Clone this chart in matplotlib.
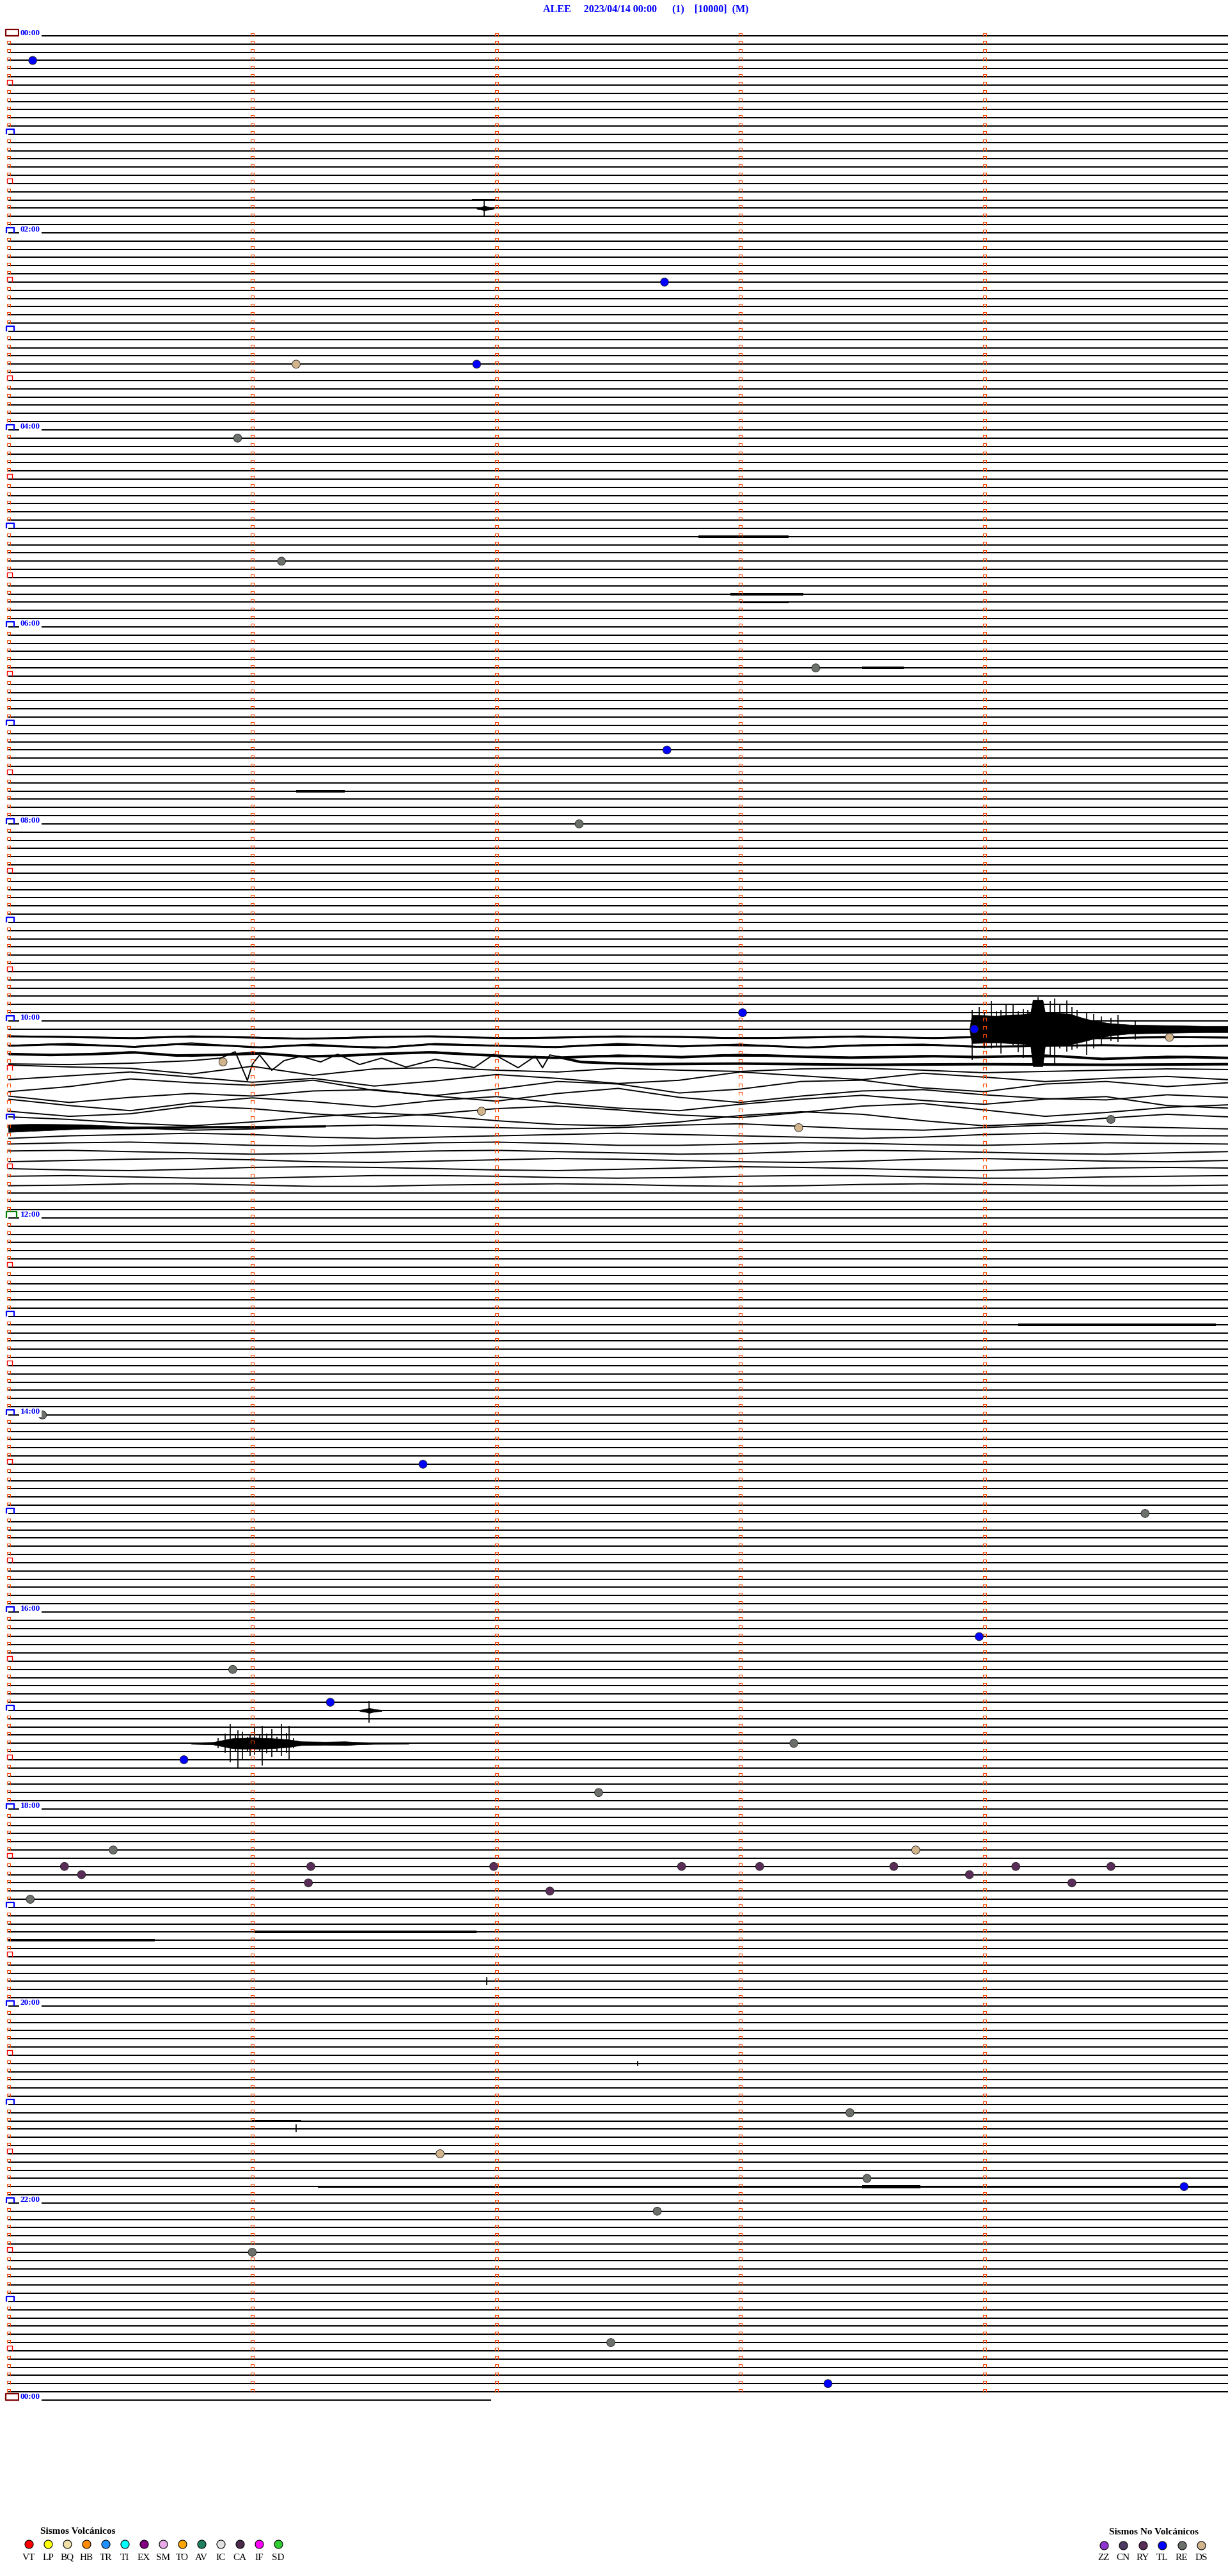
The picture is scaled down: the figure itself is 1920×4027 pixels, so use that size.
import numpy as np
import matplotlib.pyplot as plt
from matplotlib.path import Path
from matplotlib.collections import LineCollection

header = "ALEE     2023/04/14 00:00      (1)    [10000]  (M)"

n_rows = 289              # one row = 5 minutes, 00:00 .. 24:00
row_len = 5.0             # minutes per row
last_row_len = 1.98       # the 24:00 row stops after ~2 minutes
minute_ticks = [0, 1, 2, 3, 4]

# located events: row, minute inside the row, class
ev_row = [3, 30, 40, 40, 49, 64, 77, 87, 96, 119, 121, 122, 125, 131, 133, 132,
          168, 174, 180, 195, 199, 203, 208, 210, 214, 221, 221,
          223, 223, 223, 223, 223, 223, 223, 223, 224, 224, 225, 225, 226, 227,
          253, 258, 261, 262, 265, 270, 281, 286]
ev_min = [0.10, 2.69, 1.18, 1.92, 0.94, 1.12, 3.31, 2.70, 2.34, 3.01, 3.96, 4.76, 0.88, 1.94, 3.24, 4.52,
          0.14, 1.70, 4.66, 3.98, 0.92, 1.32, 3.22, 0.72, 2.42, 0.43, 3.72,
          0.23, 1.24, 1.99, 2.76, 3.08, 3.63, 4.13, 4.52, 0.30, 3.94, 1.23, 4.36, 2.22, 0.09,
          3.45, 1.77, 3.52, 4.82, 2.66, 1.00, 2.47, 3.36]
ev_cls = ["TL", "TL", "DS", "TL", "RE", "RE", "RE", "TL", "RE", "TL", "TL", "DS", "DS", "DS", "DS", "RE",
          "RE", "TL", "RE", "TL", "RE", "TL", "RE", "TL", "RE", "RE", "DS",
          "RY", "RY", "RY", "RY", "RY", "RY", "RY", "RY", "RY", "RY", "RY", "RY", "RY", "RE",
          "RE", "DS", "RE", "TL", "RE", "RE", "RE", "TL"]

# legend classes
volc_names = ["VT", "LP", "BQ", "HB", "TR", "TI", "EX", "SM", "TO", "AV", "IC", "CA", "IF", "SD"]
volc_colors = ["#ff0000", "#ffff00", "#f0e0a8", "#ff8c00", "#1e90ff", "#00ffff", "#800080",
               "#e8a8e8", "#ffa500", "#1e8060", "#e0e0e0", "#4a2a48", "#ff00ff", "#32cd32"]
novolc_names = ["ZZ", "CN", "RY", "TL", "RE", "DS"]
novolc_colors = ["#8e35d0", "#4c3a60", "#5a2c58", "#0000ff", "#6c706a", "#d2b48c"]

# long period waves around 10:00-12:00, offsets (px, up positive) every 0.25 min
wave_t = [0, 0.25, 0.5, 0.75, 1.0, 1.25, 1.5, 1.75, 2.0, 2.25, 2.5, 2.75, 3.0, 3.25, 3.5,
          3.75, 4.0, 4.25, 4.5, 4.75, 5.0]
wave_rows = [122, 123, 124, 126, 127, 128, 129, 130, 131, 132, 133, 134, 135,
             136, 137, 138, 139, 140]
wave_off = [
    [2, 1, -1, 2, 0, -2, 1, 2, -1, 0, 2, 1, -1, 0, 2, -1, 1, 0, -1, 1, 0],
    [0, 3, -2, 4, -3, 2, -4, 3, 0, -2, 3, -1, 2, -3, 1, 2, -2, 0, 1, -1, 0],
    [0, -2, 3, -4, 2, -5, 0, 3, -3, -6, -2, -5, -1, -4, -6, -3, -5, -2, -8, -4, -6],
    [8, 5, 3, -6, 6, -8, 2, 4, 0, -3, 3, 0, -2, 2, 3, 0, -4, -2, 0, 2, 1],
    [-2, 4, 10, 2, -6, 0, -12, -4, 6, 0, -8, -3, 10, 4, -2, 8, 2, -5, 0, 3, -2],
    [-8, 0, 12, 6, 2, 10, -6, -14, -4, 8, 4, -10, -4, 8, 10, -2, -8, 4, 8, 0, 6],
    [-2, -12, -4, 2, -2, 6, 8, -2, -10, 2, 10, -4, -12, -2, 6, 8, 0, -6, -8, 0, -4],
    [6, -4, -12, 0, 8, 2, -6, 4, 10, 0, -8, -12, -2, 6, 12, 4, -2, 6, 10, -4, -8],
    [0, -8, -4, 8, 4, -4, -10, -4, 4, 8, 2, -6, -10, -2, 8, 12, 2, -8, -2, 6, 10],
    [4, 0, -6, -10, -4, 4, 10, 6, -2, -8, -10, -4, 6, 12, 8, -2, -10, -6, 2, 8, 4],
    [0, 2, 0, -4, -2, 2, 4, 2, 0, -2, 0, 4, 6, 2, -2, -4, 0, 4, 2, 0, -2],
    [-4, 0, 2, 4, 2, -2, -4, -2, 0, 2, 4, 2, 0, -2, -4, -2, 2, 4, 2, 0, 0],
    [0, 2, 3, 1, -2, -3, -1, 2, 3, 1, -2, -2, 0, 2, 1, -1, -2, 0, 2, 1, 0],
    [2, 3, 1, -1, -3, -2, 0, 2, 3, 1, -1, -3, -2, 1, 3, 2, 0, -2, -3, -1, 1],
    [-2, 0, 2, 3, 1, -2, -3, -1, 1, 3, 2, 0, -2, -3, -1, 2, 3, 1, -1, -2, 0],
    [0, -2, -3, -1, 2, 3, 2, 0, -2, -3, -1, 1, 3, 2, 0, -2, -3, -1, 1, 2, 1],
    [1, 2, 0, -2, -2, 0, 2, 2, 1, -1, -2, -1, 1, 2, 2, 0, -2, -2, 0, 1, 2],
    [-1, 0, 2, 2, 0, -2, -2, 0, 1, 2, 1, -1, -2, -1, 1, 2, 1, 0, -1, -1, 0],
]
# row 125 swings fast, own time points
r125_t = [0, 0.25, 0.5, 0.75, 0.87, 0.93, 0.98, 1.0, 1.03, 1.08, 1.13, 1.2, 1.28, 1.35, 1.44,
          1.53, 1.63, 1.75, 1.85, 1.91, 1.99, 2.09, 2.16, 2.19, 2.22, 2.35, 2.6, 3.0, 3.5,
          4.0, 4.5, 5.0]
r125_off = [-3, -4, -2, 2, 6, 16, -29, -4, 11, -13, 2, 9, 0, 12, -4,
            6, -8, 4, -3, -9, 12, -9, 9, -9, 11, 0, -3, -2, -4, -3, -4, -3]

# envelopes of the larger events (px above / below the trace)
burst_row = [121, 208, 204, 21, 133]
burst_t = [[3.94, 3.95, 4.05, 4.15, 4.19, 4.20, 4.24, 4.25, 4.35, 4.40, 4.45, 4.52, 4.60, 4.75, 4.90, 5.0],
           [0.75, 0.84, 0.88, 0.92, 1.00, 1.08, 1.15, 1.20, 1.30, 1.38, 1.43, 1.50, 1.64],
           [1.44, 1.46, 1.48, 1.50, 1.53],
           [1.92, 1.94, 1.95, 1.97, 1.99],
           [0.0, 0.1, 0.3, 0.5, 1.3]]
burst_up = [[0, 22, 21, 23, 25, 46, 46, 26, 24, 18, 13, 9, 7, 6, 5, 5],
            [1, 2, 5, 8, 9, 8, 6, 3, 2.5, 3, 2, 1.2, 1],
            [1, 2, 4, 2, 1],
            [1, 2, 4, 2, 1],
            [5, 5, 3.5, 1.8, 1.2]]
burst_dn = [[0, 22, 21, 23, 25, 58, 58, 26, 24, 20, 15, 10, 7, 6, 5, 5],
            [1, 2, 5, 8, 9, 8, 6, 3, 2.5, 3, 2, 1.2, 1],
            [1, 2, 4, 2, 1],
            [1, 2, 4, 2, 1],
            [7, 6, 3.5, 1.8, 1.2]]

# single spikes inside events: row, minute, px up, px down
spike_row = [121] * 24 + [208] * 18 + [204, 21, 237, 255, 247]
spike_t = [3.95, 3.98, 4.00, 4.03, 4.05, 4.07, 4.09, 4.12, 4.14, 4.16, 4.18, 4.22,
           4.27, 4.29, 4.31, 4.34, 4.36, 4.38, 4.42, 4.45, 4.48, 4.52, 4.55, 4.62,
           0.86, 0.89, 0.91, 0.93, 0.94, 0.96, 0.98, 0.99, 1.01, 1.03, 1.04, 1.06,
           1.08, 1.10, 1.12, 1.14, 1.15, 1.17,
           1.48, 1.95, 1.96, 1.18, 2.58]
spike_up = [30, 35, 26, 44, 28, 30, 38, 40, 28, 32, 30, 50,
            44, 48, 40, 45, 35, 30, 25, 24, 20, 18, 22, 14,
            8, 15, 30, 12, 20, 18, 10, 14, 25, 12, 27, 15,
            22, 10, 30, 16, 27, 8,
            15, 14, 6, 7, 4]
spike_dn = [48, 20, 30, 30, 26, 38, 22, 25, 36, 45, 28, 55,
            40, 55, 30, 35, 32, 30, 40, 30, 25, 18, 20, 16,
            8, 15, 30, 14, 40, 25, 12, 20, 18, 14, 35, 16,
            22, 12, 20, 15, 25, 8,
            19, 12, 6, 5, 4]

# stretches of raised background noise: row, start, end, half width px
noise_row = [61, 60, 68, 69, 77, 92, 157, 156, 231, 232, 262, 262, 121, 122, 123, 124, 125,
             20, 254, 205]
noise_t0 = [2.83, 2.90, 2.96, 3.00, 3.50, 1.18, 4.14, 4.30, 1.01, 0.00, 1.27, 3.50, 0.0, 0.0, 0.0, 0.0, 2.25,
            1.90, 1.00, 1.45]
noise_t1 = [3.20, 3.10, 3.26, 3.20, 3.67, 1.38, 4.95, 4.60, 1.92, 0.60, 5.00, 3.74, 3.94, 5.0, 5.0, 5.0, 5.0,
            2.00, 1.20, 1.52]
noise_amp = [2, 1.2, 2, 1.2, 2, 2, 2, 1.2, 2, 2, 1.6, 2.5, 1.2, 1.5, 1.5, 2, 2,
             1.2, 1.2, 1.2]

# ---------------- layout of the sheet ----------------
W, H = 1920, 4027
ROW_PX = 12.833          # px between rows
MIN_PX = 381.4           # px per minute
X0, Y0 = 13, 56          # px of minute 0, row 0

fig = plt.figure(figsize=(W / 100, H / 100), dpi=100)
ax = fig.add_axes([0, 0, 1, 1])
ax.set_xlim(-X0 / MIN_PX, (W - X0) / MIN_PX)
ax.set_ylim((H - Y0) / ROW_PX, -Y0 / ROW_PX)
ax.axis("off")

serif = ["Liberation Serif", "DejaVu Serif"]


def px(v):
    return v / ROW_PX


wave_map = {r: (wave_t, o) for r, o in zip(wave_rows, wave_off)}
wave_map[125] = (r125_t, r125_off)


def trace_y(row, t):
    if row in wave_map:
        wt, wo = wave_map[row]
        return row - px(np.interp(t, wt, wo))
    return row + np.zeros_like(t)


# traces
segs = []
wave_segs = []
for r in range(n_rows):
    end = last_row_len if r == n_rows - 1 else row_len
    if r in wave_map:
        wt, wo = wave_map[r]
        tt = np.array(wt, dtype=float)
        wave_segs.append(np.column_stack([tt, r - px(np.array(wo, dtype=float))]))
    else:
        segs.append([(0, r), (end, r)])
ax.add_collection(LineCollection(segs, colors="black", linewidths=1.45, zorder=2))
ax.add_collection(LineCollection(wave_segs, colors="black", linewidths=1.4, zorder=2))

# noise bands
for r, a, b, amp in zip(noise_row, noise_t0, noise_t1, noise_amp):
    tt = np.linspace(a, b, 30)
    base = trace_y(r, tt)
    ax.fill_between(tt, base - px(amp), base + px(amp), color="black", lw=0, zorder=2)

# event envelopes
for r, tt, up, dn in zip(burst_row, burst_t, burst_up, burst_dn):
    tt = np.array(tt)
    base = trace_y(r, tt)
    ax.fill_between(tt, base - px(np.array(up)), base + px(np.array(dn)),
                    color="black", lw=0.5, zorder=2)
for r, t, up, dn in zip(spike_row, spike_t, spike_up, spike_dn):
    ax.vlines(t, r - px(up), r + px(dn), color="black", lw=1.2, zorder=2)

# minute markers (open top brackets)
bracket = Path([(-1, -1), (-1, 1), (1, 1), (1, -1)],
               [Path.MOVETO, Path.LINETO, Path.LINETO, Path.LINETO])
flat_bracket = Path([(-1, -0.6), (-1, 0.6), (1, 0.6), (1, -0.6)],
                    [Path.MOVETO, Path.LINETO, Path.LINETO, Path.LINETO])
box = Path([(-1, -0.5), (-1, 0.5), (1, 0.5), (1, -0.5), (-1, -0.5)],
           [Path.MOVETO, Path.LINETO, Path.LINETO, Path.LINETO, Path.CLOSEPOLY])

small_x, small_y = [], []
half_rows, hour_rows = [], []
for r in range(n_rows - 1):
    for m in minute_ticks:
        if m == 0 and r % 12 == 0:
            hour_rows.append(r)
            continue
        if m == 0 and r % 12 == 6:
            half_rows.append(r)
            continue
        small_x.append(m)
        small_y.append(r - px(2.5))
ax.plot(small_x, small_y, ls="none", marker=bracket, ms=3.6, mfc="none",
        mec="#ff4500", mew=0.8, zorder=3)
ax.plot(np.full(len(half_rows), (14.5 - X0) / MIN_PX), np.array(half_rows) - px(4),
        ls="none", marker=bracket, ms=5.8, mfc="none", mec="#ff0000", mew=1.0, zorder=3)

for r in hour_rows + [n_rows - 1]:
    if r in (0, n_rows - 1):
        ax.plot((19 - X0) / MIN_PX, r - px(5), marker=box, ms=14.4, mfc="none",
                mec="#800000", mew=1.6, zorder=3)
    elif r == 144:
        ax.plot((17.5 - X0) / MIN_PX, r - px(4.5), marker=flat_bracket, ms=12.2, mfc="none",
                mec="#008000", mew=1.6, zorder=3)
    else:
        ax.plot((15.5 - X0) / MIN_PX, r - px(4), marker=flat_bracket, ms=8.6, mfc="none",
                mec="#0000ff", mew=1.6, zorder=3)
    if r % 24 == 0:
        lab = "%02d:00" % ((r // 12) % 24)
        ax.text((32 - X0) / MIN_PX, r - px(4.5), lab, fontsize=9.6, fontweight="bold",
                family=serif, color="#0000ff", ha="left", va="center", zorder=5,
                bbox=dict(fc="white", ec="none", pad=1.2))

# event circles
cls_color = dict(zip(novolc_names, novolc_colors))
cls_color.update(dict(zip(volc_names, volc_colors)))
ax.scatter(ev_min, ev_row, s=84, c=[cls_color[c] for c in ev_cls],
           edgecolors="#202020", linewidths=0.6, zorder=4)

# header
fig.text(1010 / W, 1 - 14.5 / H, header, fontsize=11.5, fontweight="bold", family=serif,
         color="#0000ff", ha="center", va="center")

# legends (pixel layout)
lg = fig.add_axes([0, 0, 1, 1], facecolor="none")
lg.set_xlim(0, W)
lg.set_ylim(H, 0)
lg.axis("off")

lg.text(63, 3957, "Sismos Volcánicos", fontsize=11, fontweight="bold", family=serif,
        ha="left", va="center")
for k, (nm, col) in enumerate(zip(volc_names, volc_colors)):
    xc = 45 + 30 * k
    lg.scatter(xc, 3977, s=88, color=col, edgecolors="black", linewidths=0.8)
    lg.text(xc, 3998, nm, fontsize=11, family=serif, ha="center", va="center")

lg.text(1734, 3958, "Sismos No Volcánicos", fontsize=11, fontweight="bold", family=serif,
        ha="left", va="center")
for k, (nm, col) in enumerate(zip(novolc_names, novolc_colors)):
    xc = 1726 + 30.4 * k
    lg.scatter(xc, 3979, s=88, color=col, edgecolors="black", linewidths=0.8)
    lg.text(xc, 3998, nm, fontsize=11, family=serif, ha="center", va="center")

fig.savefig("out.png", dpi=100)
